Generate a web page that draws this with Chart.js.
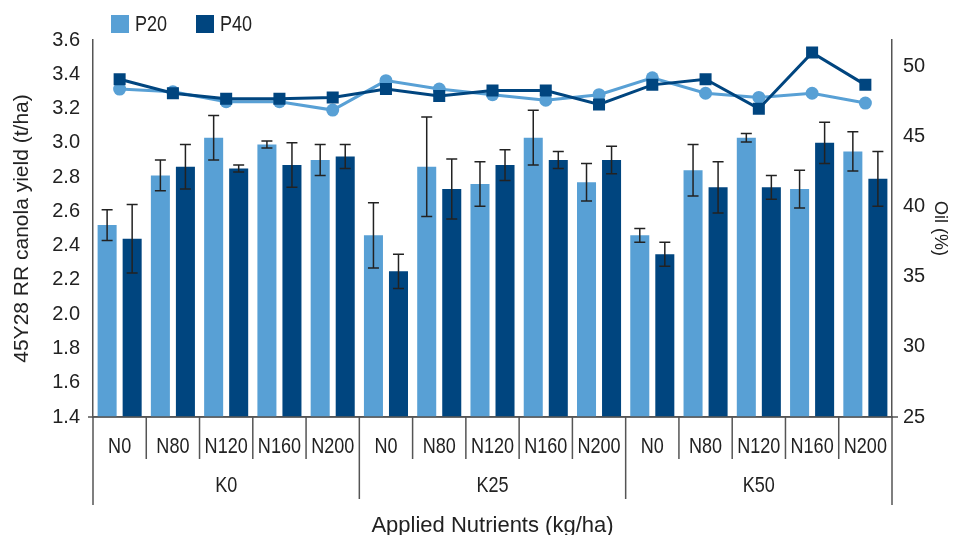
<!DOCTYPE html>
<html>
<head>
<meta charset="utf-8">
<script src="https://cdn.jsdelivr.net/npm/chart.js@4.4.1/dist/chart.umd.min.js"></script>
<style>
body { margin: 0; background: #fff; }
#wrap { width: 968px; height: 535px; }
</style>
</head>
<body>
<div id="wrap"><canvas id="canola-chart" width="968" height="535"></canvas></div>
<script>
// categories
var nLevels = ['N0', 'N80', 'N120', 'N160', 'N200'];
var kLevels = ['K0', 'K25', 'K50'];

// canola yield (t/ha) with error
var yieldP20 = [2.52, 2.81, 3.03, 2.99, 2.90, 2.46, 2.86, 2.76, 3.03, 2.77, 2.46, 2.84, 3.03, 2.73, 2.95];
var errP20   = [0.09, 0.09, 0.13, 0.02, 0.09, 0.19, 0.29, 0.13, 0.16, 0.11, 0.04, 0.15, 0.025, 0.11, 0.115];
var yieldP40 = [2.44, 2.86, 2.85, 2.87, 2.92, 2.25, 2.73, 2.87, 2.90, 2.90, 2.35, 2.74, 2.74, 3.00, 2.79];
var errP40   = [0.20, 0.13, 0.02, 0.13, 0.07, 0.10, 0.175, 0.09, 0.05, 0.08, 0.07, 0.15, 0.07, 0.12, 0.16];

// oil (%)
var oilP20 = [48.4, 48.2, 47.5, 47.5, 46.9, 49.0, 48.4, 48.0, 47.6, 48.0, 49.2, 48.1, 47.8, 48.1, 47.4];
var oilP40 = [49.1, 48.1, 47.7, 47.7, 47.8, 48.4, 47.9, 48.3, 48.3, 47.3, 48.7, 49.1, 47.0, 51.0, 48.7];

var LIGHT = '#58a0d5';
var DARK = '#00457f';
var AXIS = '#555555';
var TEXT = '#222222';
var SANS = "'Liberation Sans', Arial, sans-serif";
var NARROW_FONT = '22px ' + SANS;
var SQUEEZE = 0.82;

var categories = [];
kLevels.forEach(function (k) {
    nLevels.forEach(function (n) {
        categories.push(n);
    });
});

// condensed-looking text: squeeze horizontally around the anchor
function narrowText(ctx, text, x, y, align) {
    ctx.save();
    ctx.translate(x, y);
    ctx.scale(SQUEEZE, 1);
    ctx.textAlign = align;
    ctx.fillText(text, 0, 0);
    ctx.restore();
}

var errorBarsPlugin = {
    id: 'errorBars',
    afterDatasetDraw: function (chart, args) {
        var ds = chart.data.datasets[args.index];
        if (!ds.errors) return;
        var ctx = chart.ctx;
        var y = chart.scales.y;
        ctx.save();
        ctx.strokeStyle = TEXT;
        ctx.lineWidth = 1.5;
        args.meta.data.forEach(function (bar, i) {
            var hi = y.getPixelForValue(ds.data[i] + ds.errors[i]);
            var lo = y.getPixelForValue(ds.data[i] - ds.errors[i]);
            ctx.beginPath();
            ctx.moveTo(bar.x, hi);
            ctx.lineTo(bar.x, lo);
            ctx.moveTo(bar.x - 5.5, hi);
            ctx.lineTo(bar.x + 5.5, hi);
            ctx.moveTo(bar.x - 5.5, lo);
            ctx.lineTo(bar.x + 5.5, lo);
            ctx.stroke();
        });
        ctx.restore();
    }
};

var groupAxisPlugin = {
    id: 'groupAxis',
    afterDraw: function (chart) {
        var ctx = chart.ctx;
        var x = chart.scales.x;
        var area = chart.chartArea;
        var n = chart.data.labels.length;
        var step = x.getPixelForValue(1) - x.getPixelForValue(0);
        var per = nLevels.length;

        ctx.save();
        ctx.strokeStyle = AXIS;
        ctx.lineWidth = 1.5;
        ctx.beginPath();
        ctx.moveTo(area.left - 5, area.bottom);
        ctx.lineTo(area.right + 6, area.bottom);
        for (var i = 0; i <= n; i++) {
            var bx = x.getPixelForValue(Math.min(i, n - 1)) + (i < n ? -step / 2 : step / 2);
            var len = 42;
            if (i % per === 0) len = 82;
            if (i === 0 || i === n) len = 88;
            ctx.moveTo(bx, area.bottom);
            ctx.lineTo(bx, area.bottom + len);
        }
        ctx.stroke();

        ctx.fillStyle = TEXT;
        ctx.font = NARROW_FONT;
        ctx.textBaseline = 'middle';
        chart.data.labels.forEach(function (label, i) {
            narrowText(ctx, label, x.getPixelForValue(i), area.bottom + 30, 'center');
        });
        kLevels.forEach(function (k, g) {
            var cx = (x.getPixelForValue(g * per) + x.getPixelForValue(g * per + per - 1)) / 2;
            narrowText(ctx, k, cx, area.bottom + 69, 'center');
        });
        ctx.restore();
    }
};

var legendPlugin = {
    id: 'boxLegend',
    afterDraw: function (chart) {
        var ctx = chart.ctx;
        var left = chart.chartArea.left + 18;
        ctx.save();
        ctx.font = NARROW_FONT;
        ctx.textBaseline = 'middle';
        chart.data.datasets.forEach(function (ds) {
            if (ds.type !== 'bar') return;
            ctx.fillStyle = ds.backgroundColor;
            ctx.fillRect(left, 15, 18, 18);
            ctx.fillStyle = TEXT;
            narrowText(ctx, ds.label, left + 24, 25, 'left');
            left += 85;
        });
        ctx.restore();
    }
};

var ctx = document.getElementById('canola-chart');
var CanolaChart = new Chart(ctx, {
    data: {
        labels: categories,
        datasets: [
            {
                type: 'line',
                label: 'P40 oil',
                data: oilP40,
                yAxisID: 'y1',
                borderColor: DARK,
                backgroundColor: DARK,
                borderWidth: 3,
                pointStyle: 'rect',
                pointRadius: 8.5,
                pointBorderWidth: 0,
                pointBackgroundColor: DARK,
                order: 0
            },
            {
                type: 'line',
                label: 'P20 oil',
                data: oilP20,
                yAxisID: 'y1',
                borderColor: LIGHT,
                backgroundColor: LIGHT,
                borderWidth: 3,
                pointStyle: 'circle',
                pointRadius: 6.5,
                pointBorderWidth: 0,
                pointBackgroundColor: LIGHT,
                order: 1
            },
            {
                type: 'bar',
                label: 'P20',
                data: yieldP20,
                errors: errP20,
                yAxisID: 'y',
                backgroundColor: LIGHT,
                categoryPercentage: 0.94,
                barPercentage: 0.76,
                order: 2
            },
            {
                type: 'bar',
                label: 'P40',
                data: yieldP40,
                errors: errP40,
                yAxisID: 'y',
                backgroundColor: DARK,
                categoryPercentage: 0.94,
                barPercentage: 0.76,
                order: 3
            }
        ]
    },
    plugins: [errorBarsPlugin, groupAxisPlugin, legendPlugin],
    options: {
        responsive: false,
        animation: false,
        layout: {
            padding: { top: 40, left: 0, right: 0, bottom: 0 }
        },
        plugins: {
            legend: { display: false },
            tooltip: { enabled: false }
        },
        scales: {
            x: {
                offset: true,
                grid: { display: false, drawTicks: false },
                border: { display: true, color: AXIS, width: 1.5 },
                ticks: { display: false },
                title: {
                    display: true,
                    text: 'Applied Nutrients (kg/ha)',
                    color: TEXT,
                    padding: { top: 0, bottom: -4 },
                    font: { family: SANS, size: 22 }
                },
                afterFit: function (scale) {
                    scale.height = 118;
                }
            },
            y: {
                position: 'left',
                min: 1.4,
                max: 3.6,
                grid: { display: false, drawTicks: false },
                border: { display: true, color: AXIS, width: 1.5 },
                ticks: {
                    stepSize: 0.2,
                    color: TEXT,
                    padding: 13,
                    font: { family: SANS, size: 20 },
                    callback: function (value) {
                        return value.toFixed(1);
                    }
                },
                title: {
                    display: true,
                    text: '45Y28 RR canola yield (t/ha)',
                    color: TEXT,
                    padding: { top: 10, bottom: 0 },
                    font: { family: SANS, size: 21 }
                },
                afterFit: function (scale) {
                    scale.width = 93;
                }
            },
            y1: {
                position: 'right',
                min: 25,
                max: 51.9,
                grid: { display: false, drawTicks: false },
                border: { display: true, color: AXIS, width: 1.5 },
                ticks: {
                    stepSize: 5,
                    includeBounds: false,
                    color: TEXT,
                    padding: 11,
                    font: { family: SANS, size: 20 },
                    callback: function (value) {
                        return value % 5 === 0 ? value : '';
                    }
                },
                title: {
                    display: true,
                    text: 'Oil (%)',
                    color: TEXT,
                    padding: { top: 17, bottom: 0 },
                    font: { family: SANS, size: 18 }
                },
                afterFit: function (scale) {
                    scale.width = 76;
                }
            }
        }
    }
});
</script>
</body>
</html>
